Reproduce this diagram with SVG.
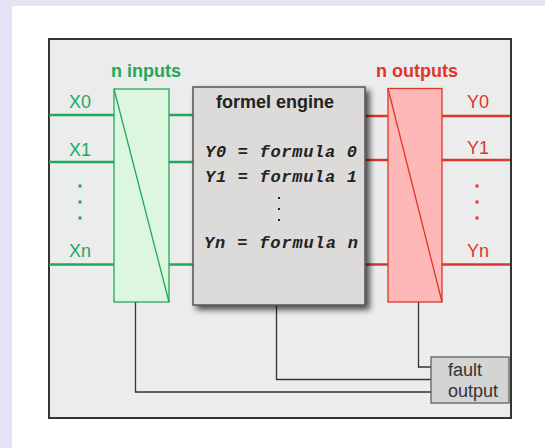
<svg xmlns="http://www.w3.org/2000/svg" width="545" height="448" viewBox="0 0 545 448">
  <defs>
    <filter id="shadow" x="-10%" y="-10%" width="130%" height="130%">
      <feGaussianBlur in="SourceAlpha" stdDeviation="3"/>
      <feOffset dx="4" dy="4" result="b"/>
      <feComponentTransfer><feFuncA type="linear" slope="0.7"/></feComponentTransfer>
      <feMerge><feMergeNode/><feMergeNode in="SourceGraphic"/></feMerge>
    </filter>
  </defs>
  <style>
    .sans { font-family: "Liberation Sans", Arial, sans-serif; }
    .mono { font-family: "Liberation Mono", "Courier New", monospace; font-weight: bold; font-style: italic; font-size: 17px; fill: #222; }
    .green { fill: #22a85a; }
    .red { fill: #e0352b; }
    .gline { stroke: #22a85a; stroke-width: 2.5; fill: none; }
    .rline { stroke: #e0352b; stroke-width: 2.5; fill: none; }
    .conn { stroke: #333; stroke-width: 1.3; fill: none; }
    .lbl { font-size: 18px; }
    .title { font-size: 18px; font-weight: bold; }
  </style>
  <rect x="0" y="0" width="545" height="448" fill="#e6e3f7"/>
  <rect x="12" y="6" width="533" height="442" fill="#ffffff"/>

  <g id="frame">
    <rect x="49" y="39" width="462" height="379" fill="#ebecec" stroke="#333" stroke-width="2"/>
  </g>

  <g id="connectors">
    <line class="gline" x1="49" y1="115" x2="114" y2="115"/>
    <line class="gline" x1="49" y1="162" x2="114" y2="162"/>
    <line class="gline" x1="49" y1="264.5" x2="114" y2="264.5"/>
    <line class="gline" x1="169" y1="115" x2="193" y2="115"/>
    <line class="gline" x1="169" y1="162" x2="193" y2="162"/>
    <line class="gline" x1="169" y1="264.5" x2="193" y2="264.5"/>
    <line class="rline" x1="365" y1="116" x2="388" y2="116"/>
    <line class="rline" x1="365" y1="160" x2="388" y2="160"/>
    <line class="rline" x1="365" y1="264.5" x2="388" y2="264.5"/>
    <line class="rline" x1="442" y1="116" x2="510" y2="116"/>
    <line class="rline" x1="442" y1="160" x2="510" y2="160"/>
    <line class="rline" x1="442" y1="264.5" x2="510" y2="264.5"/>
    <polyline class="conn" points="135.5,302 135.5,392 431,392"/>
    <polyline class="conn" points="276.5,305 276.5,379.5 431,379.5"/>
    <polyline class="conn" points="418.5,302 418.5,367 431,367"/>
  </g>

  <g id="inputs">
    <text class="sans title green" x="146" y="77" text-anchor="middle">n inputs</text>
    <rect x="114" y="89" width="55" height="213" fill="#dcf7de" stroke="#22a85a" stroke-width="1.3"/>
    <line x1="114" y1="89" x2="169" y2="302" stroke="#22a85a" stroke-width="1.3"/>
    <text class="sans lbl green" x="80" y="108" text-anchor="middle">X0</text>
    <text class="sans lbl green" x="80" y="156" text-anchor="middle">X1</text>
    <rect x="78.5" y="184.5" width="3" height="3" class="green"/>
    <rect x="78.5" y="200.5" width="3" height="3" class="green"/>
    <rect x="78.5" y="216.5" width="3" height="3" class="green"/>
    <text class="sans lbl green" x="80" y="257" text-anchor="middle">Xn</text>
  </g>

  <g id="engine">
    <rect x="193" y="87" width="172" height="218" fill="#dcdbda" stroke="#555" stroke-width="1.5" filter="url(#shadow)"/>
    <text class="sans title" x="275" y="108" text-anchor="middle" fill="#222">formel engine</text>
    <text class="mono" x="205" y="157" textLength="152" lengthAdjust="spacing">Y0 = formula 0</text>
    <text class="mono" x="205" y="182" textLength="152" lengthAdjust="spacing">Y1 = formula 1</text>
    <rect x="278" y="197" width="2" height="2" fill="#222"/>
    <rect x="278" y="208" width="2" height="2" fill="#222"/>
    <rect x="278" y="219" width="2" height="2" fill="#222"/>
    <text class="mono" x="204" y="248" textLength="154" lengthAdjust="spacing">Yn = formula n</text>
  </g>

  <g id="outputs">
    <text class="sans title red" x="417" y="77" text-anchor="middle">n outputs</text>
    <rect x="388" y="88.5" width="54" height="213.5" fill="#ffb8b8" stroke="#e0352b" stroke-width="1.3"/>
    <line x1="388" y1="88.5" x2="442" y2="302" stroke="#e0352b" stroke-width="1.3"/>
    <text class="sans lbl red" x="478" y="108" text-anchor="middle">Y0</text>
    <text class="sans lbl red" x="478" y="154" text-anchor="middle">Y1</text>
    <rect x="475.5" y="184.5" width="3" height="3" class="red"/>
    <rect x="475.5" y="200.5" width="3" height="3" class="red"/>
    <rect x="475.5" y="216.5" width="3" height="3" class="red"/>
    <text class="sans lbl red" x="478" y="257" text-anchor="middle">Yn</text>
  </g>

  <g id="fault">
    <rect x="431" y="357" width="78" height="46" fill="#d4d4d4" stroke="#555" stroke-width="1.2"/>
    <text class="sans" x="448" y="376" font-size="18" fill="#333">fault</text>
    <text class="sans" x="448" y="397" font-size="18" fill="#333">output</text>
  </g>
</svg>
